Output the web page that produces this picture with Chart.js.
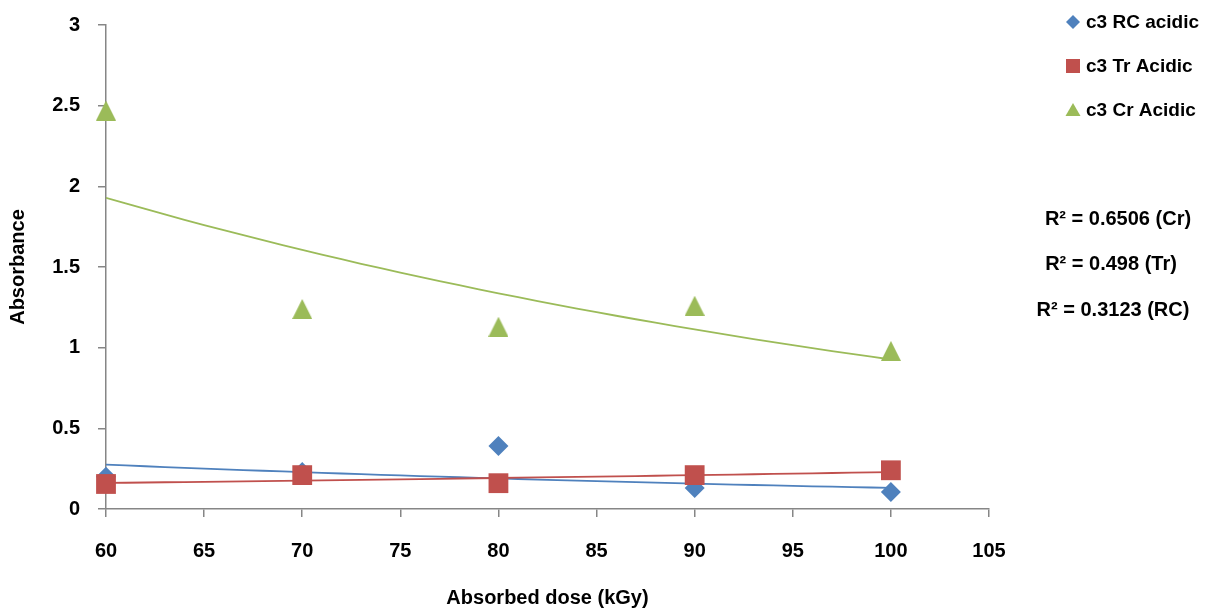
<!DOCTYPE html>
<html><head><meta charset="utf-8">
<script src="https://cdn.jsdelivr.net/npm/chart.js@4"></script>
<style>html,body{margin:0;padding:0;background:#fff;}canvas{display:block;}</style>
</head><body>
<canvas id="c" width="1209" height="612"></canvas>
<script>
const doses = [60, 70, 80, 90, 100];
const rcAcidic = [0.20, 0.23, 0.39, 0.13, 0.105];
const trAcidic = [0.155, 0.21, 0.16, 0.21, 0.24];
const crAcidic = [2.47, 1.24, 1.13, 1.26, 0.98];
const seriesNames = ['c3 RC acidic', 'c3 Tr Acidic', 'c3 Cr Acidic'];
const r2Labels = ['R\u00B2 = 0.6506 (Cr)', 'R\u00B2 = 0.498 (Tr)', 'R\u00B2 = 0.3123 (RC)'];
const xTicks = [60, 65, 70, 75, 80, 85, 90, 95, 100, 105];
const yTicks = [0, 0.5, 1, 1.5, 2, 2.5, 3];

const BLUE = '#4F81BD', RED = '#C0504D', GREEN = '#9BBB59', GREY = '#868686';
const FONT = '"Liberation Sans", Arial, sans-serif';

// exponential least-squares trendline (as in the original spreadsheet)
function expTrend(xs, ys) {
  const n = xs.length;
  const ly = ys.map(Math.log);
  const mx = xs.reduce((a, b) => a + b, 0) / n;
  const my = ly.reduce((a, b) => a + b, 0) / n;
  let sxy = 0, sxx = 0;
  for (let i = 0; i < n; i++) { sxy += (xs[i] - mx) * (ly[i] - my); sxx += (xs[i] - mx) ** 2; }
  const b = sxy / sxx, a = my - b * mx;
  const pts = [];
  for (let x = xs[0]; x <= xs[n - 1]; x += 1) pts.push({x, y: Math.exp(a + b * x)});
  return pts;
}
const toPts = ys => doses.map((x, i) => ({x, y: ys[i]}));

// triangle marker centred on its bounding box (spreadsheet style)
const triMarker = document.createElement('canvas');
triMarker.width = 20; triMarker.height = 20;
(function () {
  const t = triMarker.getContext('2d');
  t.fillStyle = GREEN;
  t.beginPath(); t.moveTo(10, 0); t.lineTo(20, 20); t.lineTo(0, 20); t.closePath(); t.fill();
})();

const overlay = {
  id: 'overlay',
  afterDraw(chart) {
    const ctx = chart.ctx;
    ctx.save();
    ctx.font = 'bold 19px ' + FONT;
    ctx.textBaseline = 'middle';
    ctx.textAlign = 'left';
    const ly = [22, 66, 110];
    const cols = [BLUE, RED, GREEN];
    const shapes = ['diamond', 'square', 'triangle'];
    for (let i = 0; i < 3; i++) {
      const cx = 1073, cy = ly[i];
      ctx.fillStyle = cols[i];
      ctx.beginPath();
      if (shapes[i] === 'diamond') { ctx.moveTo(cx, cy - 7); ctx.lineTo(cx + 7, cy); ctx.lineTo(cx, cy + 7); ctx.lineTo(cx - 7, cy); }
      else if (shapes[i] === 'square') { ctx.rect(cx - 7, cy - 7, 14, 14); }
      else { ctx.moveTo(cx, cy - 7); ctx.lineTo(cx + 7.5, cy + 6); ctx.lineTo(cx - 7.5, cy + 6); }
      ctx.closePath(); ctx.fill();
      ctx.fillStyle = '#000';
      ctx.fillText(seriesNames[i], 1086, cy + 1);
    }
    ctx.font = 'bold 20px ' + FONT;
    ctx.textAlign = 'center';
    const ry = [219, 264, 310];
    const rx = [1118, 1111, 1113];
    for (let i = 0; i < 3; i++) ctx.fillText(r2Labels[i], rx[i], ry[i]);
    ctx.restore();
  }
};

new Chart(document.getElementById('c'), {
  type: 'scatter',
  data: {
    datasets: [
      {label: seriesNames[1], data: toPts(trAcidic), pointStyle: 'rect', pointRadius: 14, pointHoverRadius: 14, backgroundColor: RED, borderColor: RED, borderWidth: 0, order: 0, clip: false},
      {label: seriesNames[0], data: toPts(rcAcidic), pointStyle: 'rectRot', pointRadius: 10, pointHoverRadius: 10, backgroundColor: BLUE, borderColor: BLUE, borderWidth: 0, order: 1, clip: false},
      {label: seriesNames[2], data: toPts(crAcidic), pointStyle: triMarker, pointRadius: 10, pointHoverRadius: 10, backgroundColor: GREEN, borderColor: GREEN, borderWidth: 0, order: 2, clip: false},
      {label: 'trend Cr', type: 'line', data: expTrend(doses, crAcidic), showLine: true, pointRadius: 0, borderColor: GREEN, borderWidth: 1.8, fill: false, tension: 0, order: 3},
      {label: 'trend Tr', type: 'line', data: expTrend(doses, trAcidic), showLine: true, pointRadius: 0, borderColor: RED, borderWidth: 1.8, fill: false, tension: 0, order: 3},
      {label: 'trend RC', type: 'line', data: expTrend(doses, rcAcidic), showLine: true, pointRadius: 0, borderColor: BLUE, borderWidth: 1.8, fill: false, tension: 0, order: 3}
    ]
  },
  options: {
    responsive: false,
    animation: false,
    layout: {padding: {left: 0, right: 220, top: 25, bottom: 0}},
    plugins: {legend: {display: false}, tooltip: {enabled: false}},
    scales: {
      x: {
        type: 'linear', min: 60, max: 105,
        afterBuildTicks: s => { s.ticks = xTicks.map(v => ({value: v})); },
        afterFit: s => { s.height = 103; },
        grid: {drawOnChartArea: false, drawTicks: true, tickLength: 8, color: GREY, lineWidth: 1.5},
        border: {color: GREY, width: 1.5},
        ticks: {color: '#000', font: {family: FONT, size: 20, weight: 'bold'}, padding: 22, maxRotation: 0},
        title: {display: true, text: 'Absorbed dose (kGy)', color: '#000', font: {family: FONT, size: 20, weight: 'bold'}, padding: {top: 0, bottom: 2}}
      },
      y: {
        type: 'linear', min: 0, max: 3,
        afterBuildTicks: s => { s.ticks = yTicks.map(v => ({value: v})); },
        afterFit: s => { s.width = 106; s.paddingTop = 0; s.paddingBottom = 0; },
        grid: {drawOnChartArea: false, drawTicks: true, tickLength: 8, color: GREY, lineWidth: 1.5},
        border: {color: GREY, width: 1.5},
        ticks: {color: '#000', font: {family: FONT, size: 20, weight: 'bold'}, padding: 18, callback: v => String(v)},
        title: {display: true, text: 'Absorbance', color: '#000', font: {family: FONT, size: 20, weight: 'bold'}, padding: {top: 6, bottom: 0}}
      }
    }
  },
  plugins: [overlay]
});
</script>
</body></html>
